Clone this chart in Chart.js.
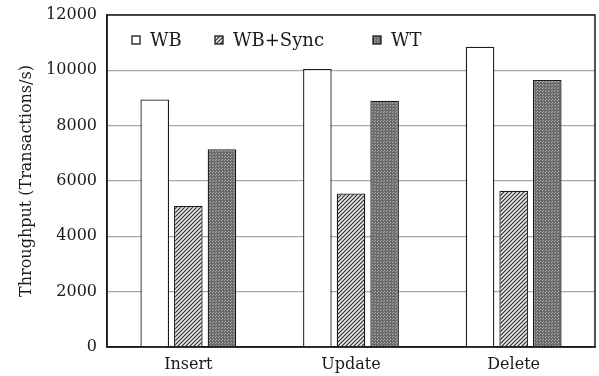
<!DOCTYPE html>
<html>
<head>
<meta charset="utf-8">
<script src="https://cdn.jsdelivr.net/npm/chart.js@4"></script>
<style>
  html, body { margin: 0; padding: 0; background: #fff; }
  #wrap { width: 599px; height: 376px; }
</style>
</head>
<body>
<div id="wrap"><canvas id="chart"></canvas></div>
<script>
const categories = ['Insert', 'Update', 'Delete'];
const seriesNames = ['WB', 'WB+Sync', 'WT'];
const wbValues = [8950, 10050, 10850];
const wbSyncValues = [5100, 5550, 5650];
const wtValues = [7150, 8900, 9650];

const FONT = '"DejaVu Serif", "Liberation Serif", serif';
const INK = '#1a1a1a';

// little canvas patterns to mimic the hatch / dotted fills
function hatchPattern() {
  const c = document.createElement('canvas');
  c.width = 4; c.height = 4;
  const g = c.getContext('2d');
  g.fillStyle = '#eeeeee';
  g.fillRect(0, 0, 4, 4);
  g.strokeStyle = '#2a2a2a';
  g.lineWidth = 1.2;
  g.beginPath();
  g.moveTo(0, 4); g.lineTo(4, 0);
  g.moveTo(-1, 1); g.lineTo(1, -1);
  g.moveTo(3, 5); g.lineTo(5, 3);
  g.stroke();
  return g.createPattern(c, 'repeat');
}

function dotPattern() {
  const c = document.createElement('canvas');
  c.width = 3; c.height = 3;
  const g = c.getContext('2d');
  g.fillStyle = '#6a6a6a';
  g.fillRect(0, 0, 3, 3);
  g.fillStyle = '#aaaaaa';
  g.fillRect(0, 0, 1, 1);
  g.fillRect(2, 1, 1, 1);
  return g.createPattern(c, 'repeat');
}

const fills = ['#ffffff', hatchPattern(), dotPattern()];

// legend sits inside the plot, drawn by hand
const legendX = [25, 108, 266];
const insideLegend = {
  id: 'insideLegend',
  afterDraw(chart) {
    const ctx = chart.ctx;
    const area = chart.chartArea;
    const y = area.top + 25;
    ctx.save();
    ctx.font = '18px ' + FONT;
    ctx.textBaseline = 'middle';
    chart.data.datasets.forEach((ds, i) => {
      const x = area.left + legendX[i];
      ctx.fillStyle = ds.backgroundColor;
      ctx.fillRect(x, y - 4, 8, 8);
      ctx.strokeStyle = INK;
      ctx.lineWidth = 1.3;
      ctx.strokeRect(x, y - 4, 8, 8);
      ctx.fillStyle = INK;
      ctx.fillText(ds.label, x + 18, y + 1);
    });
    ctx.restore();
  }
};

const frame = {
  id: 'frame',
  afterDraw(chart) {
    const a = chart.chartArea;
    const ctx = chart.ctx;
    ctx.save();
    ctx.strokeStyle = INK;
    ctx.lineWidth = 1.5;
    ctx.strokeRect(a.left, a.top, a.right - a.left, a.bottom - a.top);
    ctx.restore();
  }
};

new Chart(document.getElementById('chart'), {
  type: 'bar',
  data: {
    labels: categories,
    datasets: [
      { label: seriesNames[0], data: wbValues, backgroundColor: fills[0] },
      { label: seriesNames[1], data: wbSyncValues, backgroundColor: fills[1] },
      { label: seriesNames[2], data: wtValues, backgroundColor: fills[2] }
    ]
  },
  options: {
    responsive: true,
    maintainAspectRatio: false,
    animation: false,
    layout: { padding: { top: 15, right: 4, left: 0, bottom: 0 } },
    datasets: {
      bar: {
        borderColor: INK,
        borderWidth: 1.3,
        categoryPercentage: 0.62,
        barPercentage: 0.85
      }
    },
    plugins: {
      legend: { display: false },
      tooltip: { enabled: false }
    },
    scales: {
      x: {
        grid: { display: false },
        border: { display: true, color: INK, width: 1.5 },
        ticks: { color: INK, font: { family: FONT, size: 16 }, padding: 0 },
        afterFit(scale) { scale.height = 29; }
      },
      y: {
        min: 0,
        max: 12000,
        ticks: {
          stepSize: 2000,
          color: INK,
          font: { family: FONT, size: 16 },
          padding: 10,
          callback: (v) => String(v)
        },
        grid: { color: '#a8a8a8', lineWidth: 1.2, drawTicks: false },
        border: { display: true, color: INK, width: 1.5 },
        title: {
          display: true,
          text: 'Throughput (Transactions/s)',
          color: INK,
          font: { family: FONT, size: 16 },
          padding: { top: 17, bottom: 0 }
        },
        afterFit(scale) {
          scale.width = 107;
          scale.paddingTop = 0;
          scale.paddingBottom = 0;
        }
      }
    }
  },
  plugins: [insideLegend, frame]
});
</script>
</body>
</html>
